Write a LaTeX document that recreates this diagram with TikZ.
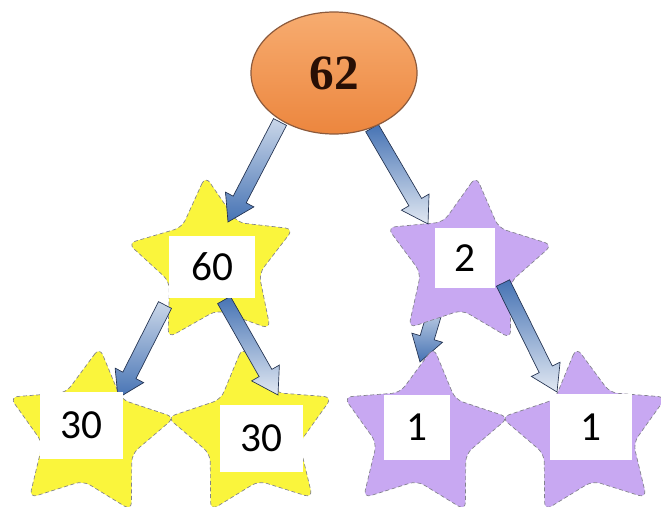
\documentclass[tikz,border=0pt]{standalone}
\usepackage{fontspec}
\newfontfamily\calib{Carlito}
\newfontfamily\tnr{Liberation Serif}
\usetikzlibrary{shapes.geometric,calc}
\definecolor{ystar}{RGB}{250,245,60}
\definecolor{pstar}{RGB}{200,168,242}
\definecolor{starline}{RGB}{130,130,140}
\definecolor{adark}{RGB}{70,115,180}
\definecolor{alight}{RGB}{225,232,242}
\definecolor{aline}{RGB}{35,50,80}
\definecolor{ortop}{RGB}{247,172,112}
\definecolor{ormid}{RGB}{245,152,78}
\definecolor{orbot}{RGB}{236,134,62}
\definecolor{orline}{RGB}{140,90,60}
\definecolor{numdark}{RGB}{40,15,5}
\tikzset{
  starnode/.style={star, star points=5, star point ratio=1.85, minimum size=131pt,
    inner sep=0pt, rounded corners=6pt, draw=starline, densely dashed, line width=0.5pt},
  ystarnode/.style={starnode, fill=ystar},
  pstarnode/.style={starnode, fill=pstar},
  numbox/.style={fill=white, inner sep=0pt, font=\calib\fontsize{31}{33}\selectfont},
  arrowdown/.style={draw=aline, line width=0.5pt, top color=alight!85!adark, bottom color=adark},
  arrowup/.style={draw=aline, line width=0.5pt, top color=adark, bottom color=alight},
}
\newcommand\blockarr[3]{%
  \coordinate (#1hb) at ($(#2)!19pt!(#1)$);
  \path[#3] ($(#1)!5.5pt!90:(#2)$) -- ($(#1hb)!5.5pt!90:(#2)$) -- ($(#1hb)!12pt!90:(#2)$)
    -- (#2) -- ($(#1hb)!12pt!-90:(#2)$) -- ($(#1hb)!5.5pt!-90:(#2)$)
    -- ($(#1)!5.5pt!-90:(#2)$) -- cycle;
}
\begin{document}
\begin{tikzpicture}[x=0.75pt,y=-0.75pt]
\useasboundingbox (0,0) rectangle (661,507);
\fill[white] (0,0) rectangle (661,507);
% arrow coordinates
\coordinate (a1) at (280,122); \coordinate (b1) at (228,222);
\coordinate (a2) at (372,128); \coordinate (b2) at (428,224);
\coordinate (a3) at (165,305); \coordinate (b3) at (118,398);
\coordinate (a4) at (224,300); \coordinate (b4) at (278,395);
\coordinate (a5) at (436,308); \coordinate (b5) at (420,362);
\coordinate (a6) at (503,283); \coordinate (b6) at (557,392);
% hidden short arrow
\blockarr{a5}{b5}{arrowdown}
% stars
\node[ystarnode, rotate=5] (s60) at (213,263) {};
\node[pstarnode, rotate=-6] (s2) at (467,263) {};
\node[ystarnode, rotate=-7] (s30a) at (89,434) {};
\node[ystarnode, rotate=7] (s30b) at (253,434) {};
\node[pstarnode, rotate=-7] (s1a) at (423,434) {};
\node[pstarnode, rotate=7] (s1b) at (587,434) {};
% arrows
\blockarr{a1}{b1}{arrowdown}
\blockarr{a2}{b2}{arrowup}
\blockarr{a3}{b3}{arrowdown}
\blockarr{a4}{b4}{arrowup}
\blockarr{a6}{b6}{arrowup}
% root
\node[ellipse, minimum width=124.5pt, minimum height=91.5pt, draw=orline, line width=0.9pt,
  top color=ortop, middle color=ormid, bottom color=orbot, text=numdark,
  font=\tnr\bfseries\fontsize{37}{37}\selectfont] (n62) at (334,73) {62};
% labels
\node[numbox, minimum width=64.5pt, minimum height=46.5pt] (l60) at (212,267) {60};
\node[numbox, minimum width=45pt, minimum height=45pt] (l2) at (465,258) {2};
\node[numbox, minimum width=62pt, minimum height=50pt] (l30a) at (81.5,425.5) {30};
\node[numbox, minimum width=62pt, minimum height=50pt] (l30b) at (261.5,438.5) {30};
\node[numbox, minimum width=50pt, minimum height=49pt] (l1a) at (417,427.5) {1};
\node[numbox, minimum width=61pt, minimum height=50pt] (l1b) at (591,427) {1};
\end{tikzpicture}
\end{document}
